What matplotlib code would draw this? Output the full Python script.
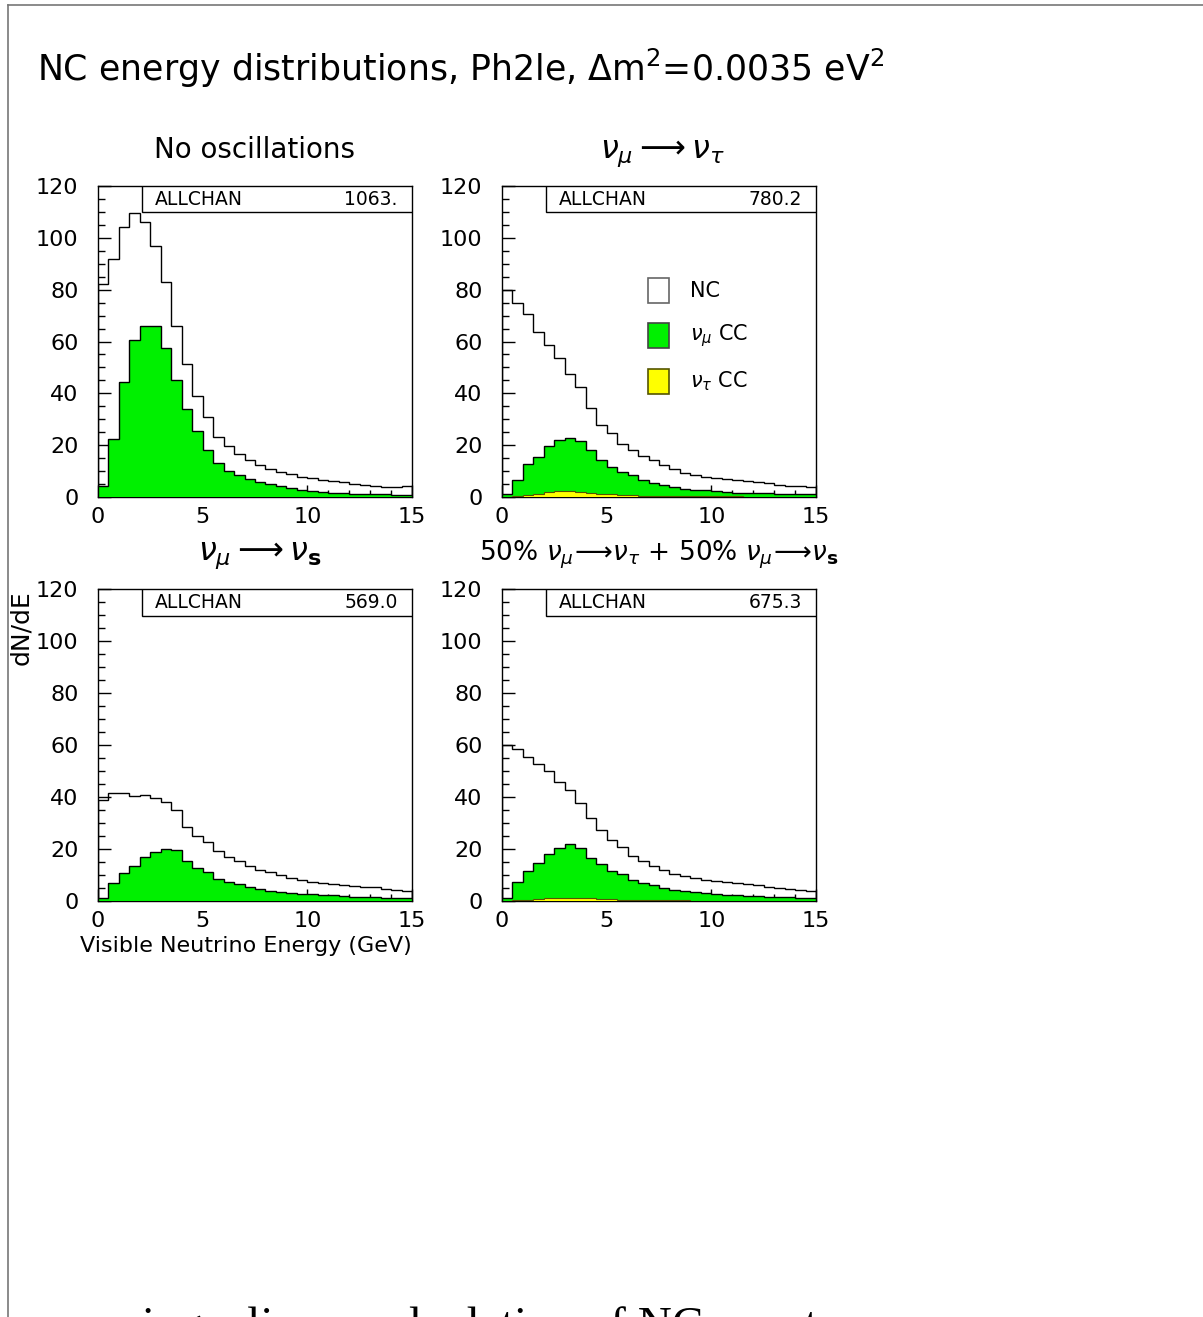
import numpy as np
import matplotlib
matplotlib.use("Agg")
import matplotlib.pyplot as plt
from matplotlib.patches import Rectangle
from matplotlib.lines import Line2D
from matplotlib.ticker import MultipleLocator

plt.rcParams['font.family'] = ['DejaVu Sans']
plt.rcParams['mathtext.fontset'] = 'dejavusans'

# ---------------- data ----------------
edges = np.linspace(0, 15, 31)

nc_noosc = [82, 92, 104, 109.6, 106, 97, 83, 66, 51.5, 38.8, 30.8, 23.3, 19.5, 16.7, 14.1,
            12.2, 10.8, 9.5, 8.7, 7.9, 7.3, 6.5, 6.0, 5.6, 5.1, 4.7, 4.1, 3.8, 3.8, 4.2]
cc_noosc = [4.2, 22.4, 44.5, 60.6, 65.9, 65.8, 57.3, 45.1, 33.8, 25.4, 18.2, 13.1, 10.0, 8.3, 6.8,
            5.6, 5.0, 4.1, 3.6, 2.8, 2.3, 2.1, 1.7, 1.5, 1.3, 1.3, 1.1, 1.0, 0.9, 0.9]
tau_noosc = [0] * 30

nc_tau = [80, 75, 70.8, 63.6, 58.7, 53.6, 47.4, 42.4, 34.4, 27.6, 24.6, 20.3, 18.1, 15.8, 14.1,
          12.2, 10.9, 9.4, 8.6, 7.9, 7.4, 7.0, 6.5, 6.2, 5.8, 5.3, 4.5, 4.2, 4.2, 3.8]
cc_tau = [1.0, 6.7, 12.6, 15.4, 19.5, 21.9, 22.7, 21.5, 18.3, 14.1, 11.5, 9.6, 8.5, 6.5, 5.5,
          4.5, 3.8, 3.2, 2.8, 2.6, 2.3, 2.1, 1.7, 1.7, 1.7, 1.5, 1.3, 1.0, 1.3, 1.0]
tau_tau = [0, 0.3, 0.6, 1.0, 2.0, 2.3, 2.4, 2.1, 1.6, 1.3, 1.0, 0.8, 0.6, 0.5, 0.4,
           0.4, 0.3, 0.3, 0.3, 0.2, 0.2, 0.2, 0.2, 0.1, 0.1, 0.1, 0.1, 0.1, 0.1, 0.1]

nc_s = [38.7, 41.4, 41.4, 40.3, 40.8, 39.7, 38.2, 35.1, 28.4, 24.9, 22.6, 19.1, 16.8, 15.3, 13.3,
        11.8, 11.2, 10.1, 8.8, 8.0, 7.5, 7.1, 6.5, 6.1, 5.6, 5.4, 5.2, 4.5, 4.3, 4.0]
cc_s = [1.3, 7.1, 10.9, 13.3, 16.8, 18.7, 20.1, 19.5, 15.5, 12.6, 11.3, 8.4, 7.5, 6.5, 5.4,
        4.5, 3.9, 3.6, 3.2, 2.8, 2.6, 2.3, 2.2, 1.9, 1.7, 1.7, 1.5, 1.3, 1.3, 1.0]
tau_s = [0] * 30

nc_mix = [60, 58.5, 55.5, 52.6, 50, 45.9, 42.7, 37.6, 31.8, 27.3, 23.5, 20.9, 17.4, 15.4, 13.5,
          11.9, 10.5, 9.7, 9.0, 8.2, 7.7, 7.4, 7.1, 6.4, 6.0, 5.5, 5.1, 4.6, 4.2, 3.8]
cc_mix = [1.3, 7.2, 11.7, 14.5, 17.9, 20.3, 21.8, 20.3, 16.7, 14.1, 11.7, 10.3, 8.1, 6.8, 6.2,
          4.9, 4.4, 3.9, 3.6, 2.9, 2.6, 2.3, 2.3, 2.1, 2.1, 1.7, 1.7, 1.5, 1.3, 1.0]
tau_mix = [0, 0.2, 0.5, 0.8, 1.1, 1.2, 1.2, 1.1, 1.0, 0.8, 0.6, 0.5, 0.4, 0.3, 0.3,
           0.2, 0.2, 0.2, 0.1, 0.1, 0.1, 0.1, 0.1, 0.1, 0.05, 0.05, 0.05, 0.05, 0.05, 0.05]

titles = ["No oscillations",
          r"$\nu_\mu \longrightarrow \nu_\tau$",
          r"$\nu_\mu \longrightarrow \nu_\mathbf{s}$",
          r"50% $\nu_\mu\!\longrightarrow\!\nu_\tau$ + 50% $\nu_\mu\!\longrightarrow\!\nu_\mathbf{s}$"]
title_sizes = [20, 23, 23, 19]
allchan = ["1063.", "780.2", "569.0", "675.3"]
panels = [(nc_noosc, cc_noosc, tau_noosc),
          (nc_tau, cc_tau, tau_tau),
          (nc_s, cc_s, tau_s),
          (nc_mix, cc_mix, tau_mix)]
legend_labels = ["NC", r"$\nu_\mu$ CC", r"$\nu_\tau$ CC"]
xticks = [0, 5, 10, 15]
yticks = [0, 20, 40, 60, 80, 100, 120]

GREEN = "#00f000"
YELLOW = "#ffff00"

W, H = 1203, 1317
fig = plt.figure(figsize=(W / 100, H / 100), dpi=100)

# page frame lines
fig.add_artist(Line2D([8 / W, 1], [1 - 5 / H, 1 - 5 / H], color="#777777", lw=1.2))
fig.add_artist(Line2D([8 / W, 8 / W], [0, 1 - 5 / H], color="#777777", lw=1.2))

# pixel boxes (left, top, right, bottom)
boxes = [(98, 186, 412, 497), (502, 186, 816, 497),
         (98, 589, 412, 901), (502, 589, 816, 901)]
title_centers = [(255, 150), (662, 154), (260, 556), (659, 555)]

axes = []
for i, (l, t, r, b) in enumerate(boxes):
    ax = fig.add_axes([l / W, 1 - b / H, (r - l) / W, (b - t) / H])
    nc, cc, tau = panels[i]
    ax.stairs(nc, edges, fill=True, color="white", zorder=1)
    ax.stairs(nc, edges, color="black", lw=1.0, zorder=2)
    ax.stairs(cc, edges, fill=True, color=GREEN, zorder=3)
    ax.stairs(cc, edges, color="black", lw=1.0, zorder=4)
    if max(tau) > 0:
        ax.stairs(tau, edges, fill=True, color=YELLOW, zorder=5)
        ax.stairs(tau, edges, color="#555500", lw=0.8, zorder=6)
    ax.set_xlim(0, 15)
    ax.set_ylim(0, 120)
    ax.set_xticks(xticks)
    ax.set_yticks(yticks)
    ax.xaxis.set_minor_locator(MultipleLocator(1))
    ax.yaxis.set_minor_locator(MultipleLocator(5))
    ax.tick_params(which="both", direction="in", top=False, right=False, width=1.0)
    ax.tick_params(which="major", length=9)
    ax.tick_params(which="minor", length=5)
    ax.tick_params(axis="y", which="major", labelsize=16, pad=14)
    ax.tick_params(axis="x", which="major", labelsize=16, pad=7)
    for sp in ax.spines.values():
        sp.set_linewidth(1.0)
    # stat box
    ax.add_patch(Rectangle((0.14, 0.915), 0.86, 0.085, transform=ax.transAxes,
                           facecolor="white", edgecolor="black", lw=1.0, zorder=10))
    ax.text(0.18, 0.957, "ALLCHAN", transform=ax.transAxes, fontsize=13.5,
            ha="left", va="center", zorder=11)
    ax.text(0.955, 0.957, allchan[i], transform=ax.transAxes, fontsize=13.5,
            ha="right", va="center", zorder=11)
    cx, cy = title_centers[i]
    fig.text(cx / W, 1 - cy / H, titles[i],
             fontsize=title_sizes[i], ha="center", va="center")
    axes.append(ax)

# legend in panel 2
ax2 = axes[1]
leg_colors = ["white", GREEN, YELLOW]
leg_edges = ["#666666", "#444444", "#555500"]
leg_y = [0.663, 0.519, 0.372]
for lab, fc, ec, yy in zip(legend_labels, leg_colors, leg_edges, leg_y):
    ax2.add_patch(Rectangle((0.465, yy - 0.04), 0.067, 0.08, transform=ax2.transAxes,
                            facecolor=fc, edgecolor=ec, lw=1.2, zorder=10))
    ax2.text(0.60, yy, lab, transform=ax2.transAxes, fontsize=15,
             ha="left", va="center", zorder=11)

axes[2].set_xlabel("Visible Neutrino Energy (GeV)", fontsize=16, loc="right", labelpad=4)

fig.text(21 / W, 1 - 628 / H, "dN/dE", rotation=90, fontsize=18, ha="center", va="center")

fig.text(37 / W, 1 - 68 / H, r"NC energy distributions, Ph2le, $\Delta$m$^2$=0.0035 eV$^2$",
         fontsize=25, ha="left", va="center")

fig.text(100 / W, 1 - 1339 / H, "using a linear calculation of NC events",
         fontsize=34, family="Liberation Serif", ha="left", va="baseline")

fig.savefig("out.png", dpi=100)
